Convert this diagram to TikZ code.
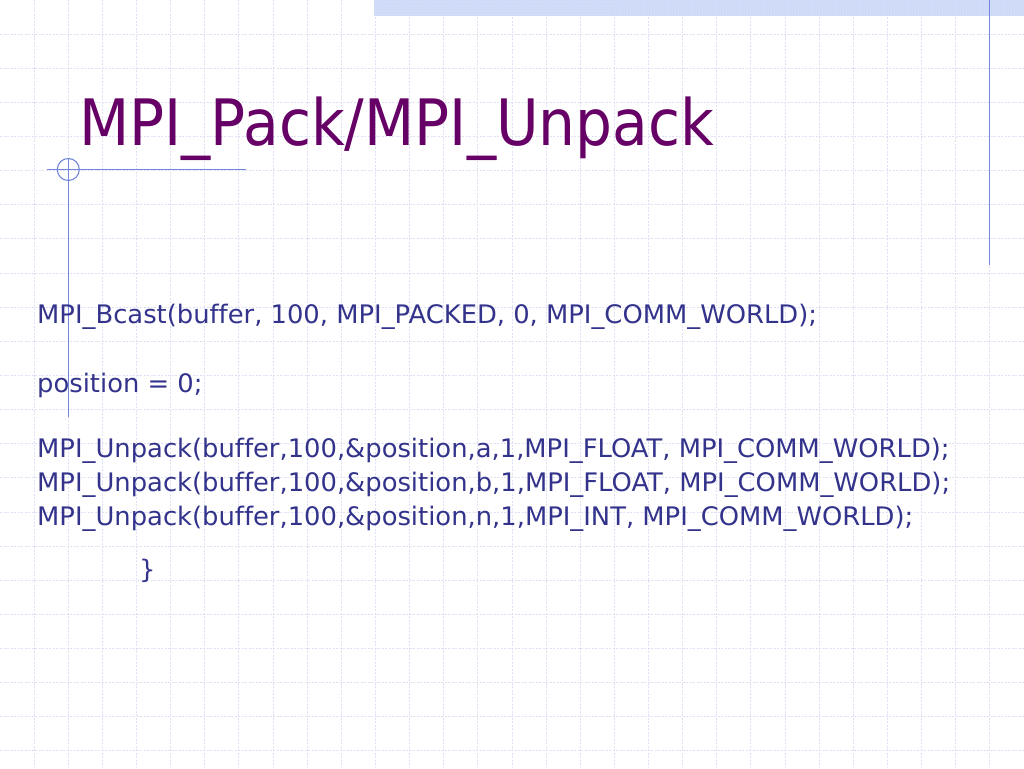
\documentclass[tikz,border=0pt]{standalone}
\usepackage{fontspec}
\setmainfont{DejaVu Sans}[FakeStretch=1.012, Ligatures=NoCommon]
\newfontfamily\titlefont{DejaVu Sans}[FakeStretch=0.91]
\usetikzlibrary{patterns}
\definecolor{gridc}{RGB}{222,225,245}
\definecolor{barc}{RGB}{206,218,247}
\definecolor{rulec}{RGB}{115,135,218}
\definecolor{titlec}{RGB}{102,0,102}
\definecolor{bodyc}{RGB}{51,51,140}
\tikzset{
  gridline/.style={draw=gridc, line width=1pt, dash pattern=on 2pt off 1.5pt},
  ruleline/.style={draw=rulec, line width=1.1pt},
  titletext/.style={anchor=base west, inner sep=0pt, text=titlec, font=\titlefont\fontsize{64}{70}\selectfont},
  bodytext/.style={anchor=base west, inner sep=0pt, text=bodyc, font=\fontsize{25.5}{30}\selectfont},
}
\begin{document}
\begin{tikzpicture}[x=1pt,y=-1pt]
\useasboundingbox (0,0) rectangle (1024,768);
\fill[white] (0,0) rectangle (1024,768);
% grid
\foreach \k in {1,...,29} {
  \draw[gridline] ({\k*34.133},0) -- ({\k*34.133},768);
}
\foreach \k in {1,...,22} {
  \draw[gridline] (0,{\k*34.133}) -- (1024,{\k*34.133});
}
% top bar
\fill[barc] (374,0) rectangle (1024,16);
\fill[pattern=dots, pattern color=white!70!barc] (374,0) rectangle (1024,16);
% right vertical rule
\coordinate (rtop) at (989.5,0);
\coordinate (rbot) at (989.5,265);
\draw[ruleline] (rtop) -- (rbot);
% crosshair
\coordinate (cc) at (68.3,169.5);
\coordinate (hl) at (47,169.5);
\coordinate (hr) at (246,169.5);
\coordinate (vt) at (68.3,158);
\coordinate (vb) at (68.3,417);
\draw[ruleline] (hl) -- (hr);
\draw[ruleline] (vt) -- (vb);
\draw[ruleline] (cc) circle (11);
% title
\node[titletext] (title) at (79,145) {MPI\_Pack/MPI\_Unpack};
% body
\node[bodytext] (l1) at (37,323) {MPI\_Bcast(buffer, 100, MPI\_PACKED, 0, MPI\_COMM\_WORLD);};
\node[bodytext] (l2) at (37,392) {position = 0;};
\node[bodytext] (l3) at (37,457) {MPI\_Unpack(buffer,100,\&position,a,1,MPI\_FLOAT, MPI\_COMM\_WORLD);};
\node[bodytext] (l4) at (37,491.5) {MPI\_Unpack(buffer,100,\&position,b,1,MPI\_FLOAT, MPI\_COMM\_WORLD);};
\node[bodytext] (l5) at (37,525.5) {MPI\_Unpack(buffer,100,\&position,n,1,MPI\_INT, MPI\_COMM\_WORLD);};
\node[bodytext] (l6) at (139,578) {\}};
\end{tikzpicture}
\end{document}
